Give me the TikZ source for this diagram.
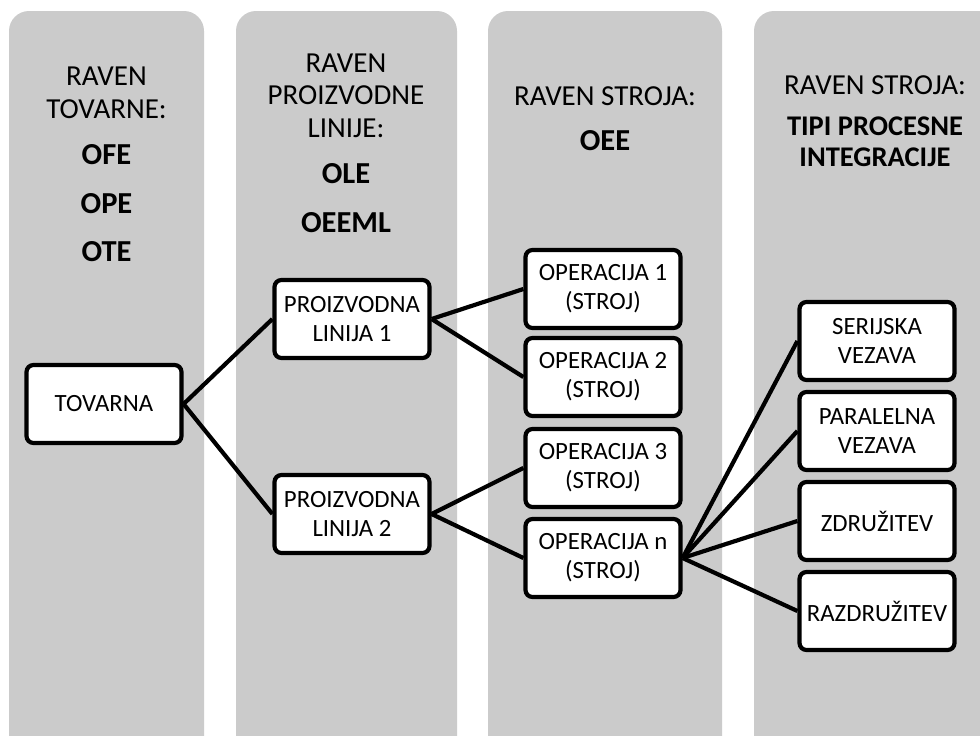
\documentclass[tikz,border=0pt]{standalone}
\usepackage{fontspec}
\setmainfont{Carlito}
\definecolor{lanefill}{RGB}{203,203,203}
\begin{document}
\begin{tikzpicture}[x=1pt,y=-1pt,
  lane/.style={fill=lanefill, rounded corners=20pt},
  box/.style={draw=black, line width=4.2pt, fill=white, rounded corners=7pt,
    minimum width=155pt, minimum height=78pt, inner sep=0pt, align=center,
    font=\fontsize{24.8}{29}\selectfont},
  head/.style={anchor=base, inner sep=0pt, font=\fontsize{29}{33}\selectfont},
  headb/.style={anchor=base, inner sep=0pt, font=\fontsize{30.5}{33}\selectfont\bfseries},
  headbs/.style={anchor=base, inner sep=0pt, font=\fontsize{28.5}{30}\selectfont\bfseries},
  link/.style={line width=4.2pt}
]
\useasboundingbox (0,0) rectangle (980,736);

% level lanes
\begin{scope}
  \clip (0,0) rectangle (980,736);
  \fill[lane] (9,11) rectangle (204,760);
  \fill[lane] (236,11) rectangle (457,760);
  \fill[lane] (488,11) rectangle (722,760);
  \fill[lane] (754,11) rectangle (1000,760);
\end{scope}

% lane headings
\node[head]  (t1a) at (106.5,85)  {RAVEN};
\node[head]  (t1b) at (106.5,118) {TOVARNE:};
\node[headb] (t1c) at (106.5,164) {OFE};
\node[headb] (t1d) at (106.5,213) {OPE};
\node[headb] (t1e) at (106.5,261) {OTE};

\node[head]  (t2a) at (346,72)  {RAVEN};
\node[head]  (t2b) at (346,104) {PROIZVODNE};
\node[head]  (t2c) at (346,137) {LINIJE:};
\node[headb] (t2d) at (346,183) {OLE};
\node[headb] (t2e) at (346,232) {OEEML};

\node[head]  (t3a) at (605,105) {RAVEN STROJA:};
\node[headb] (t3b) at (605,150) {OEE};

\node[head]   (t4a) at (875,94)  {RAVEN STROJA:};
\node[headbs] (t4b) at (875,135) {TIPI PROCESNE};
\node[headbs] (t4c) at (875,166) {INTEGRACIJE};

% hierarchy boxes
\node[box] (fac) at (104,404) {TOVARNA};
\node[box] (pl1) at (352,319) {PROIZVODNA\\LINIJA 1};
\node[box] (pl2) at (352,514) {PROIZVODNA\\LINIJA 2};
\node[box] (op1) at (603,289) {OPERACIJA 1\\(STROJ)};
\node[box] (op2) at (603,377) {OPERACIJA 2\\(STROJ)};
\node[box] (op3) at (603,468) {OPERACIJA 3\\(STROJ)};
\node[box] (opn) at (603,558) {OPERACIJA n\\(STROJ)};
\node[box] (ser) at (877,341) {SERIJSKA\\VEZAVA};
\node[box] (par) at (877,431) {PARALELNA\\VEZAVA};
\node[box] (zdr) at (877,521) {ZDRUŽITEV};
\node[box] (raz) at (877,611) {RAZDRUŽITEV};

% connectors between the levels
\draw[link] (fac.east) -- (pl1.west);
\draw[link] (fac.east) -- (pl2.west);
\draw[link] (pl1.east) -- (op1.west);
\draw[link] (pl1.east) -- (op2.west);
\draw[link] (pl2.east) -- (op3.west);
\draw[link] (pl2.east) -- (opn.west);
\draw[link] (opn.east) -- (ser.west);
\draw[link] (opn.east) -- (par.west);
\draw[link] (opn.east) -- (zdr.west);
\draw[link] (opn.east) -- (raz.west);
\end{tikzpicture}
\end{document}
